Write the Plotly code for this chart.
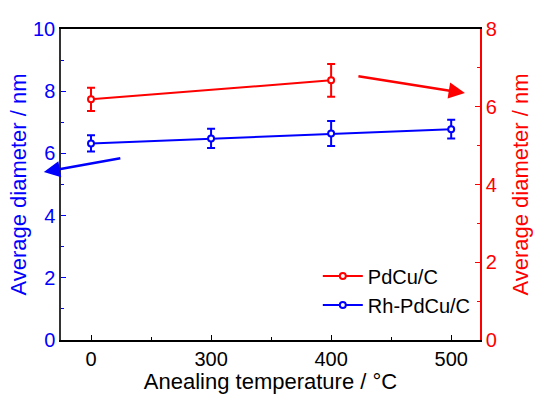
import plotly.graph_objects as go

temps = ["0", "300", "400", "500"]
rh_temps = ["0", "300", "400", "500"]
rh_diam = [6.32, 6.48, 6.64, 6.78]
rh_err = [0.26, 0.31, 0.40, 0.30]
pd_temps = ["0", "400"]
pd_diam = [6.19, 6.68]
pd_err = [0.30, 0.42]

pos = {t: i for i, t in enumerate(temps)}
BLUE = "#0000FF"
RED = "#FF0000"
FONT = "Liberation Sans, Arial, sans-serif"

fig = go.Figure()
fig.add_trace(go.Scatter(
    x=[pos[t] for t in pd_temps], y=pd_diam, yaxis="y2", name="PdCu/C",
    mode="lines+markers",
    line=dict(color=RED, width=2),
    marker=dict(symbol="circle", size=6, color="white", line=dict(color=RED, width=2)),
    error_y=dict(type="data", array=pd_err, color=RED, thickness=2, width=4),
))
fig.add_trace(go.Scatter(
    x=[pos[t] for t in rh_temps], y=rh_diam, name="Rh-PdCu/C",
    mode="lines+markers",
    line=dict(color=BLUE, width=2),
    marker=dict(symbol="circle", size=6, color="white", line=dict(color=BLUE, width=2)),
    error_y=dict(type="data", array=rh_err, color=BLUE, thickness=2, width=4),
))

fig.update_layout(
    width=533, height=394,
    margin=dict(l=61, r=53, t=29, b=54),
    paper_bgcolor="white", plot_bgcolor="white",
    font=dict(family=FONT, size=20, color="black"),
    showlegend=True,
    legend=dict(x=0.99, y=0.05, xanchor="right", yanchor="bottom",
                bgcolor="rgba(0,0,0,0)", font=dict(size=20, color="black"),
                tracegroupgap=0, itemwidth=40),
    xaxis=dict(
        range=[-0.25, 3.24], tickmode="array",
        tickvals=list(range(len(temps))), ticktext=temps,
        showline=True, linecolor="black", linewidth=1.5, mirror=True,
        ticks="inside", ticklen=5, tickcolor="black", tickwidth=1,
        minor=dict(tick0=0, dtick=0.5, ticks="inside", ticklen=3, tickcolor="black"),
        showgrid=False, zeroline=False, automargin=False,
        title=dict(text="Anealing temperature / °C", font=dict(size=22, color="black"), standoff=2),
        tickfont=dict(size=20, color="black"),
    ),
    yaxis=dict(
        range=[0, 10], dtick=2,
        showline=True, linecolor="#333333", linewidth=1.5,
        ticks="inside", ticklen=5, tickcolor=BLUE, tickwidth=1,
        minor=dict(dtick=1, ticks="inside", ticklen=3, tickcolor=BLUE),
        showgrid=False, zeroline=False, automargin=False,
        tickfont=dict(size=20, color=BLUE),
        title=dict(text="Average diameter / nm", font=dict(size=22, color=BLUE), standoff=0),
    ),
    yaxis2=dict(
        range=[0, 8], dtick=2, overlaying="y", side="right",
        showline=True, linecolor=RED, linewidth=1.5,
        ticks="inside", ticklen=5, tickcolor=RED, tickwidth=1,
        minor=dict(dtick=1, ticks="inside", ticklen=3, tickcolor=RED),
        showgrid=False, zeroline=False, automargin=False,
        tickfont=dict(size=20, color=RED),
        title=dict(text="Average diameter / nm", font=dict(size=22, color=RED), standoff=17),
    ),
    annotations=[
        dict(xref="paper", yref="paper", x=-0.041, y=0.540, ax=78, ay=-14,
             showarrow=True, arrowhead=2, arrowsize=1.3, arrowwidth=2.5, arrowcolor=BLUE, text=""),
        dict(xref="paper", yref="paper", x=0.964, y=0.794, ax=-108, ay=-17,
             showarrow=True, arrowhead=2, arrowsize=1.3, arrowwidth=2.5, arrowcolor=RED, text=""),
    ],
)

fig.write_html("out.html")
